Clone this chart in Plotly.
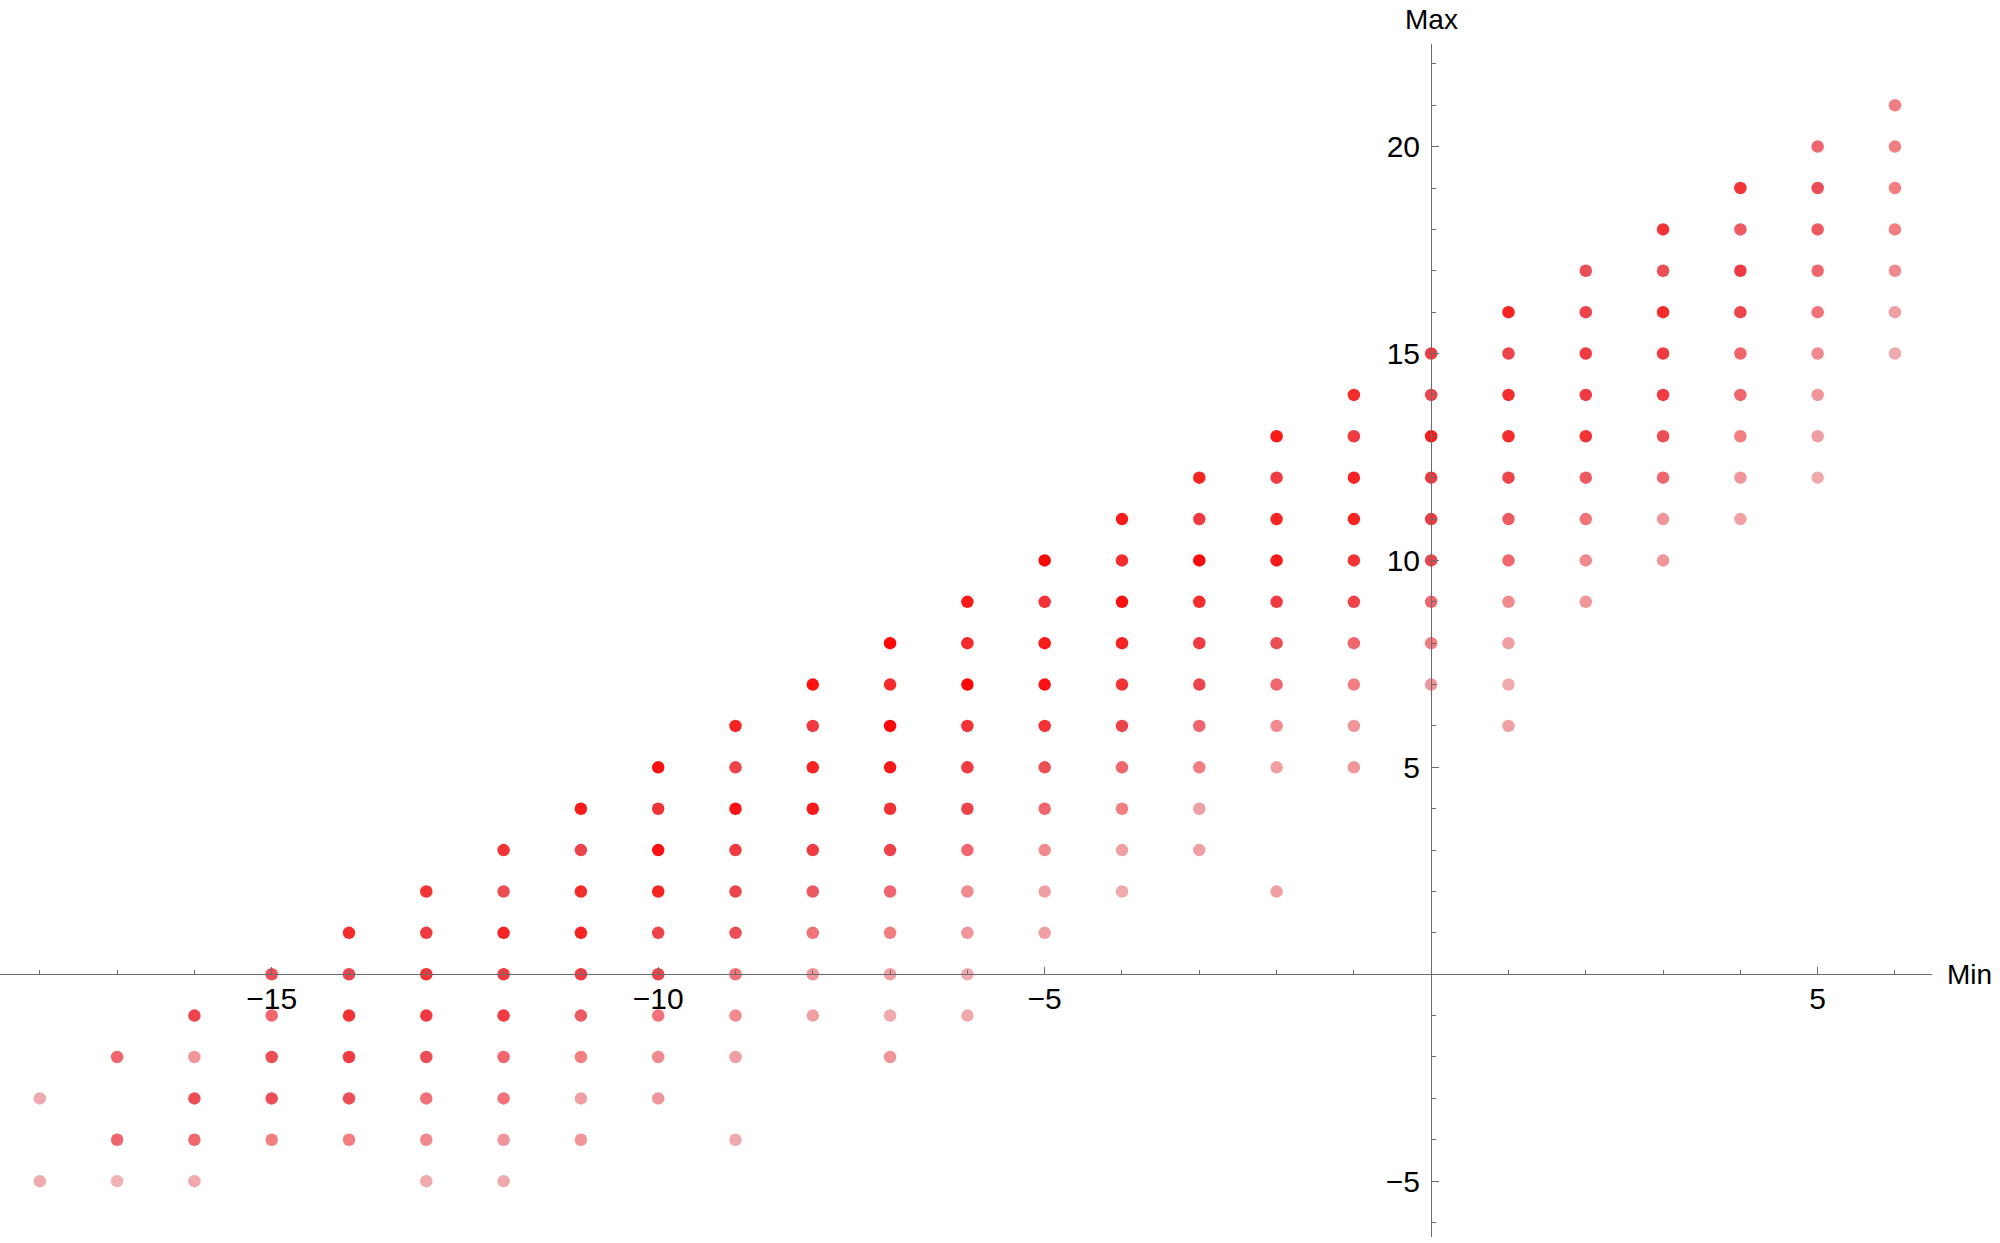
import plotly.graph_objects as go

# one column per Min value; Max values listed top to bottom
min_vals = list(range(-18, 7))

max_by_min = [
    [-3, -5],
    [-2, -4, -5],
    [-1, -2, -3, -4, -5],
    [0, -1, -2, -3, -4],
    [1, 0, -1, -2, -3, -4],
    [2, 1, 0, -1, -2, -3, -4, -5],
    [3, 2, 1, 0, -1, -2, -3, -4, -5],
    [4, 3, 2, 1, 0, -1, -2, -3, -4],
    [5, 4, 3, 2, 1, 0, -1, -2, -3],
    [6, 5, 4, 3, 2, 1, 0, -1, -2, -4],
    [7, 6, 5, 4, 3, 2, 1, 0, -1],
    [8, 7, 6, 5, 4, 3, 2, 1, 0, -1, -2],
    [9, 8, 7, 6, 5, 4, 3, 2, 1, 0, -1],
    [10, 9, 8, 7, 6, 5, 4, 3, 2, 1],
    [11, 10, 9, 8, 7, 6, 5, 4, 3, 2],
    [12, 11, 10, 9, 8, 7, 6, 5, 4, 3],
    [13, 12, 11, 10, 9, 8, 7, 6, 5, 2],
    [14, 13, 12, 11, 10, 9, 8, 7, 6, 5],
    [15, 14, 13, 12, 11, 10, 9, 8, 7],
    [16, 15, 14, 13, 12, 11, 10, 9, 8, 7, 6],
    [17, 16, 15, 14, 13, 12, 11, 10, 9],
    [18, 17, 16, 15, 14, 13, 12, 11, 10],
    [19, 18, 17, 16, 15, 14, 13, 12, 11],
    [20, 19, 18, 17, 16, 15, 14, 13, 12],
    [21, 20, 19, 18, 17, 16, 15],
]

# estimated intensity of each point (1 = faint pink, 10 = full red)
weight_by_min = [
    [2, 2],
    [5, 5, 1.5],
    [6.5, 3, 6, 5, 2],
    [6, 5, 6, 6, 4],
    [8, 6.5, 7.5, 7, 6, 4],
    [7.5, 7, 7.5, 7, 6, 4.5, 3.5, 2],
    [7.5, 6, 8.5, 7, 7, 5, 4.5, 3, 2],
    [9, 6.5, 8, 8.5, 7, 5.5, 4, 2.5, 3],
    [9.5, 7.5, 9.5, 8.5, 6.5, 6.5, 4.5, 3.5, 3],
    [8.5, 6.5, 9.5, 7, 6.5, 6, 4.5, 3.5, 2.5, 2],
    [9.5, 7, 8.5, 9, 7, 5.5, 4.5, 3, 2.5],
    [10, 8, 10, 9, 7.5, 6.5, 5, 4, 2.5, 2, 3],
    [9, 8, 10, 7.5, 7, 6.5, 5, 3.5, 3, 2, 2],
    [10, 7.5, 9, 9.5, 7.5, 6, 5, 3.5, 2.5, 2.5],
    [9, 8, 9.5, 8.5, 7.5, 6.5, 5, 4, 2.5, 2],
    [8.5, 7, 10, 8, 7, 6.5, 5, 4, 2.5, 2.5],
    [9, 7, 8.5, 9, 7, 6, 5, 3.5, 2.5, 2.5],
    [8, 7, 8.5, 8.5, 7.5, 6.5, 5, 4, 3, 3],
    [7, 6.5, 9, 7, 7, 6.5, 5, 4, 3],
    [8.5, 6.5, 8, 8, 6.5, 5.5, 5, 3.5, 2.5, 2, 2.5],
    [6, 6.5, 7, 7, 7.5, 5.5, 4.5, 3.5, 3],
    [7.5, 6, 8, 7, 7, 6, 5, 3, 3],
    [7.5, 5.5, 7, 6.5, 5, 5, 4, 3, 2.5],
    [5, 6, 5.5, 5, 4.5, 3.5, 3, 2.5, 2],
    [4, 4, 4, 4, 3.5, 2.5, 2],
]

x_ticks = [-15, -10, -5, 5]
y_ticks = [-5, 5, 10, 15, 20]

xs, ys, ws = [], [], []
for m, col, wcol in zip(min_vals, max_by_min, weight_by_min):
    for v, w in zip(col, wcol):
        xs.append(m)
        ys.append(v)
        ws.append(w)

pink_red = [
    [0.0, "rgb(242,186,190)"],
    [0.111, "rgb(240,170,174)"],
    [0.222, "rgb(240,150,154)"],
    [0.333, "rgb(242,126,130)"],
    [0.444, "rgb(240,102,110)"],
    [0.556, "rgb(236,78,86)"],
    [0.667, "rgb(238,58,64)"],
    [0.778, "rgb(244,44,44)"],
    [0.889, "rgb(249,26,26)"],
    [1.0, "rgb(253,8,8)"],
]

fig = go.Figure(go.Scatter(
    x=xs, y=ys, mode="markers",
    marker=dict(size=12.5, color=ws, colorscale=pink_red, cmin=1, cmax=10,
                line=dict(width=0)),
    hoverinfo="x+y", showlegend=False,
))

xr = [-18.515, 6.479]
yr = [-6.35, 22.48]
axis_col = "#6b6b6b"
font = dict(family="Liberation Sans, Arial, sans-serif", size=30, color="black")
label_font = dict(family="Liberation Sans, Arial, sans-serif", size=28, color="black")

def fmt(v):
    return str(v).replace("-", "\u2212")

fig.update_layout(
    width=2000, height=1243,
    margin=dict(l=0, r=68, t=44, b=6),
    paper_bgcolor="white", plot_bgcolor="white",
    font=font,
    xaxis=dict(
        range=xr, anchor="free", position=(0 - yr[0]) / (yr[1] - yr[0]),
        automargin=False,
        showgrid=False, zeroline=False, showline=True, linecolor=axis_col, linewidth=1.3,
        tickmode="array", tickvals=x_ticks, ticktext=[fmt(v) for v in x_ticks],
        ticks="inside", ticklen=7, tickwidth=1.3, tickcolor=axis_col,
        ticklabelstandoff=-2,
        minor=dict(tickmode="linear", tick0=0, dtick=1, ticks="inside",
                   ticklen=4, tickwidth=1, tickcolor=axis_col),
    ),
    yaxis=dict(
        range=yr, anchor="free", position=(0 - xr[0]) / (xr[1] - xr[0]),
        automargin=False,
        showgrid=False, zeroline=False, showline=True, linecolor=axis_col, linewidth=1.3,
        tickmode="array", tickvals=y_ticks, ticktext=[fmt(v) for v in y_ticks],
        ticks="inside", ticklen=7, tickwidth=1.3, tickcolor=axis_col,
        ticklabelstandoff=5,
        minor=dict(tickmode="linear", tick0=0, dtick=1, ticks="inside",
                   ticklen=4, tickwidth=1, tickcolor=axis_col),
    ),
    annotations=[
        dict(text="Max", x=0, xref="x", y=1, yref="paper", yanchor="middle",
             xanchor="center", yshift=25, showarrow=False, font=label_font,
             borderpad=0),
        dict(text="Min", x=1, xref="paper", y=0, yref="y", xanchor="left",
             yanchor="middle", xshift=14, showarrow=False, font=label_font,
             borderpad=0),
    ],
)

# drop the browser's default 8px body margin so the figure fills the window
fig.write_html("out.html", config={"displayModeBar": False},
               post_script="document.body.style.margin = '0';")
